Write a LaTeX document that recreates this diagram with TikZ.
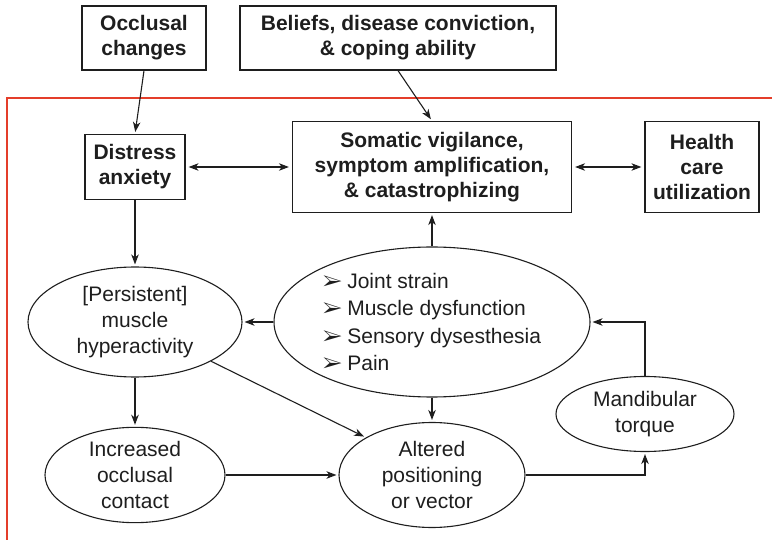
\documentclass[tikz,border=0pt]{standalone}
\usepackage{fontspec}
\setmainfont{Liberation Sans}
\usepackage{pifont}
\usetikzlibrary{arrows.meta,positioning,shapes.geometric}
\definecolor{frred}{RGB}{228,62,42}
\definecolor{lndark}{RGB}{30,30,30}

\begin{document}
\begin{tikzpicture}[x=1pt,y=-1pt,
  box/.style={draw=lndark,line width=1.2pt,font=\fontsize{21}{25}\selectfont\bfseries,align=center,inner sep=0pt,text=lndark},
  oval/.style={ellipse,draw=lndark,line width=1.1pt,font=\fontsize{21}{26}\selectfont,align=center,inner sep=0pt,text=lndark},
  arr/.style={draw=lndark,line width=1.1pt,shorten >=2pt,-{Stealth[length=10pt,width=7.5pt,inset=3pt]}},
  darr/.style={arr,shorten <=3pt,shorten >=3pt,{Stealth[length=10pt,width=7.5pt,inset=3pt]}-{Stealth[length=10pt,width=7.5pt,inset=3pt]}}]
\useasboundingbox (0,0) rectangle (772,540);
% frame
\draw[frred,line width=2.5pt] (772,98) -- (7,98) -- (7,540);
% boxes
\node[box,minimum width=124pt,minimum height=64pt] (occ) at (144,38) {Occlusal\\changes};
\node[box,minimum width=316pt,minimum height=64pt] (bel) at (398,38) {Beliefs, disease conviction,\\\& coping ability};
\node[box,minimum width=100pt,minimum height=65pt] (dis) at (135,167) {Distress\\anxiety};
\node[box,minimum width=279pt,minimum height=91pt] (som) at (432,167) {Somatic vigilance,\\symptom amplification,\\\& catastrophizing};
\node[box,minimum width=114pt,minimum height=91pt] (hcu) at (702,167) {Health\\care\\utilization};
% ovals
\node[oval,minimum width=214pt,minimum height=110pt] (per) at (135,322) {[Persistent]\\muscle\\hyperactivity};
\node[oval,minimum width=316pt,minimum height=150pt,align=left,font=\fontsize{21}{27.5}\selectfont] (cen) at (432,322)
  {\ding{226}\hspace{5pt}Joint strain\\\ding{226}\hspace{5pt}Muscle dysfunction\\\ding{226}\hspace{5pt}Sensory dysesthesia\\\ding{226}\hspace{5pt}Pain};
\node[oval,minimum width=180pt,minimum height=95pt] (inc) at (135,475) {Increased\\occlusal\\contact};
\node[oval,minimum width=186pt,minimum height=105pt] (alt) at (432,475) {Altered\\positioning\\or vector};
\node[oval,minimum width=178pt,minimum height=75pt] (man) at (645,414) {Mandibular\\torque};
% connectors
\draw[arr] (occ.south) -- (dis.north);
\draw[arr] (bel.south) -- (som.north);
\draw[darr] (dis.east) -- (som.west);
\draw[darr] (som.east) -- (hcu.west);
\draw[arr] (dis.south) -- (per.north);
\draw[arr] (cen.west) -- (per.east);
\draw[arr] (cen.north) -- (som.south);
\draw[arr] (cen.south) -- (alt.north);
\draw[arr] (per.south) -- (inc.north);
\draw[arr] (per.south east) -- (alt.north west);
\draw[arr] (inc.east) -- (alt.west);
\draw[arr] (alt.east) -| (man.south);
\draw[arr] (man.north) |- (cen.east);
\end{tikzpicture}
\end{document}
